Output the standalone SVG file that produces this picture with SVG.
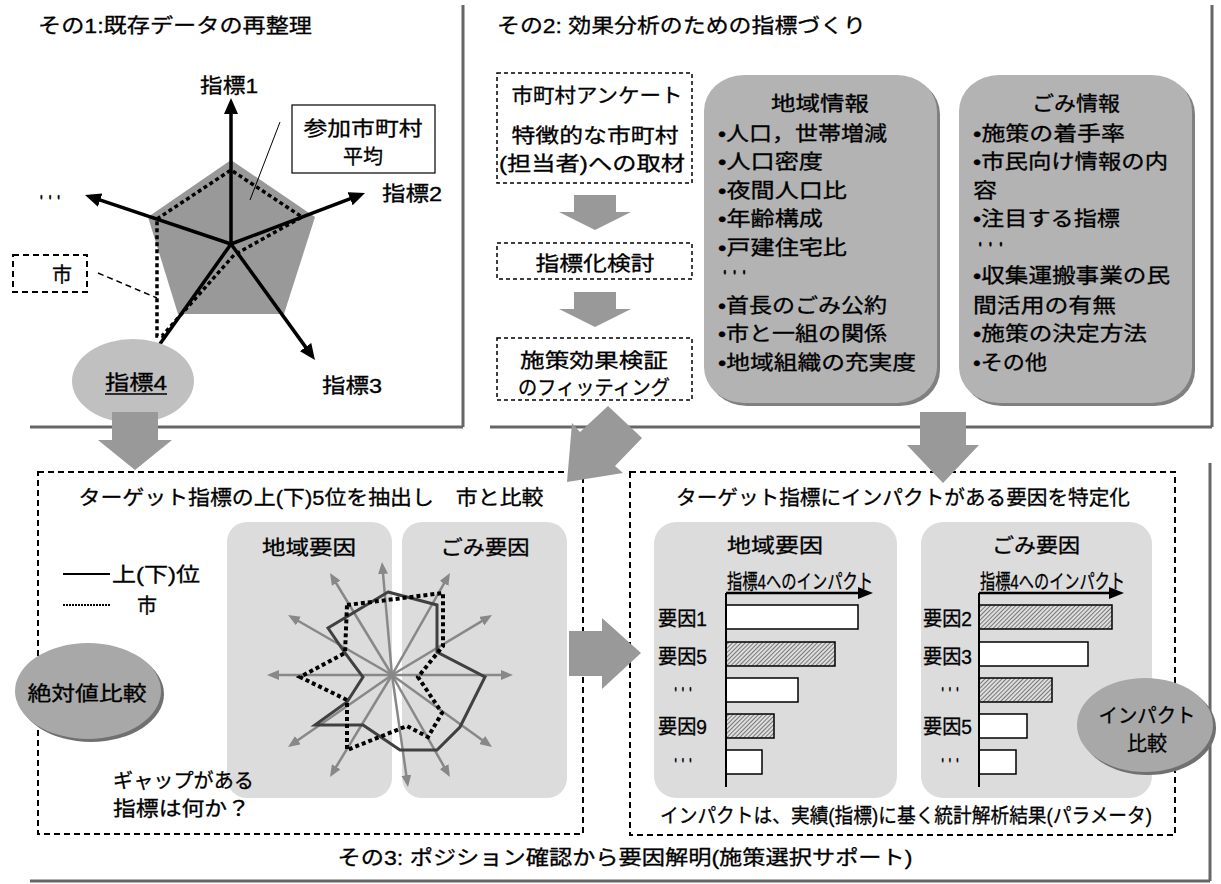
<svg xmlns="http://www.w3.org/2000/svg" width="1221" height="884" viewBox="0 0 1221 884">
<style>
.t{font-family:"Liberation Sans","Noto Sans CJK JP",sans-serif;fill:#000;font-size:20px;stroke:#000;stroke-width:0.3}
.m{text-anchor:middle}
.frame{stroke:#666;stroke-width:3;fill:none}
.garrow{fill:#999;stroke:none}
.dbox{fill:#fff;stroke:#000;stroke-width:1.5;stroke-dasharray:4 3}
.dbig{fill:none;stroke:#000;stroke-width:2;stroke-dasharray:6 4}
.gbox{fill:#b3b3b3}
.gshadow{fill:#808080}
.lbox{fill:#dcdcdc}
.ax1{stroke:#000;stroke-width:3.5;fill:none;marker-end:url(#ahB)}
.ax3{stroke:#888;stroke-width:2.5;fill:none;marker-end:url(#ahG)}
.bar{stroke:#000;stroke-width:1.5}
</style>
<defs>
<marker id="ahB" viewBox="0 0 16 14" markerWidth="16" markerHeight="14" refX="6" refY="7" orient="auto" markerUnits="userSpaceOnUse"><path d="M0,0 L16,7 L0,14 z" fill="#000"/></marker>
<marker id="ahG" viewBox="0 0 12 10" markerWidth="12" markerHeight="10" refX="5" refY="5" orient="auto" markerUnits="userSpaceOnUse"><path d="M0,0 L12,5 L0,10 z" fill="#888"/></marker>
<pattern id="hatch" width="3" height="3" patternUnits="userSpaceOnUse" patternTransform="rotate(45)"><rect width="3" height="3" fill="#dedede"/><line x1="0.5" y1="0" x2="0.5" y2="3" stroke="#777" stroke-width="1"/></pattern>
</defs>
<rect width="1221" height="884" fill="#fff"/>

<g id="frames">
<path class="frame" d="M463,5 V427 M30,427 H463"/>
<path class="frame" d="M1212,5 V427 M490,427 H1212"/>
<path class="frame" d="M1210,463 V881 M30,881 H1210"/>
</g>

<g id="panel1">
<text class="t" x="38" y="33" textLength="274" lengthAdjust="spacingAndGlyphs">その1:既存データの再整理</text>
<polygon points="231,160 315,217 284,314 178,314 148,217" fill="#999"/>
<polyline points="157,219 231,170 302,217 234,255 162,336 157,336 157,219" fill="none" stroke="#000" stroke-width="3.5" stroke-dasharray="4 3"/>
<line class="ax1" x1="231" y1="244" x2="231" y2="108"/>
<line class="ax1" x1="231" y1="244" x2="355.7" y2="196.6"/>
<line class="ax1" x1="231" y1="244" x2="309.1" y2="351.9"/>
<line class="ax1" x1="231" y1="244" x2="152.8" y2="353.9"/>
<line class="ax1" x1="231" y1="244" x2="94.5" y2="198.2"/>
<line x1="280" y1="122" x2="250" y2="200" stroke="#000" stroke-width="1"/>
<text class="t m" x="229" y="93" font-size="21" textLength="58" lengthAdjust="spacingAndGlyphs">指標1</text>
<text class="t" x="382" y="201" font-size="21" textLength="60" lengthAdjust="spacingAndGlyphs">指標2</text>
<text class="t" x="322" y="393" font-size="21" textLength="60" lengthAdjust="spacingAndGlyphs">指標3</text>
<text class="t" x="37" y="205" font-size="12" textLength="26" lengthAdjust="spacingAndGlyphs">・・・</text>
</g>

<g id="avgbox">
<rect x="292" y="105" width="143" height="68" fill="#fff" stroke="#000" stroke-width="1.2"/>
<text class="t m" x="363" y="136" font-size="24" textLength="119" lengthAdjust="spacingAndGlyphs">参加市町村</text>
<text class="t m" x="363" y="164" font-size="24">平均</text>
</g>

<g id="cityBox">
<rect x="13" y="255" width="74" height="37" fill="#fff" stroke="#000" stroke-width="2" stroke-dasharray="6 4"/>
<line x1="98" y1="273" x2="157" y2="298" stroke="#000" stroke-width="1.5" stroke-dasharray="6 4"/>
<text class="t m" x="62" y="282" font-size="21">市</text>
</g>

<g id="ind4">
<ellipse cx="133" cy="381" rx="61" ry="42" fill="#c0c0c0"/>
<text class="t" x="105" y="390" font-size="21" textLength="62" lengthAdjust="spacingAndGlyphs">指標4</text>
<line x1="105" y1="394" x2="167" y2="394" stroke="#000" stroke-width="1.5"/>
</g>

<g id="panel2">
<text class="t" x="497" y="33" textLength="369" lengthAdjust="spacingAndGlyphs">その2: 効果分析のための指標づくり</text>
</g>

<g id="survey">
<rect class="dbox" x="497" y="73" width="195" height="110"/>
<text class="t m" x="597" y="103" font-size="21" textLength="171" lengthAdjust="spacingAndGlyphs">市町村アンケート</text>
<text class="t m" x="595" y="143" font-size="21" textLength="167" lengthAdjust="spacingAndGlyphs">特徴的な市町村</text>
<text class="t m" x="592" y="171" font-size="21" textLength="186" lengthAdjust="spacingAndGlyphs">(担当者)への取材</text>
</g>
<g id="indexing">
<rect class="dbox" x="497" y="243" width="195" height="36"/>
<text class="t m" x="595" y="271" font-size="21" textLength="119" lengthAdjust="spacingAndGlyphs">指標化検討</text>
</g>
<g id="fitting">
<rect class="dbox" x="497" y="338" width="195" height="62"/>
<text class="t m" x="594" y="368" font-size="21" textLength="148" lengthAdjust="spacingAndGlyphs">施策効果検証</text>
<text class="t m" x="594" y="395" font-size="21" textLength="152" lengthAdjust="spacingAndGlyphs">のフィッティング</text>
</g>

<g id="regionInfo">
<rect class="gshadow" x="707" y="78" width="233" height="328" rx="40" ry="36"/>
<rect class="gbox" x="704" y="75" width="233" height="328" rx="40" ry="36"/>
<text class="t m" x="820" y="111" textLength="98" lengthAdjust="spacingAndGlyphs">地域情報</text>
<text class="t" x="718" y="141" textLength="169" lengthAdjust="spacingAndGlyphs">•人口，世帯増減</text>
<text class="t" x="718" y="169" textLength="105" lengthAdjust="spacingAndGlyphs">•人口密度</text>
<text class="t" x="718" y="198" textLength="129" lengthAdjust="spacingAndGlyphs">•夜間人口比</text>
<text class="t" x="718" y="226" textLength="105" lengthAdjust="spacingAndGlyphs">•年齢構成</text>
<text class="t" x="718" y="255" textLength="129" lengthAdjust="spacingAndGlyphs">•戸建住宅比</text>
<text class="t" x="720" y="280" font-size="12" textLength="29" lengthAdjust="spacingAndGlyphs">・・・</text>
<text class="t" x="718" y="313" textLength="169" lengthAdjust="spacingAndGlyphs">•首長のごみ公約</text>
<text class="t" x="718" y="341" textLength="169" lengthAdjust="spacingAndGlyphs">•市と一組の関係</text>
<text class="t" x="718" y="370" textLength="198" lengthAdjust="spacingAndGlyphs">•地域組織の充実度</text>
</g>

<g id="wasteInfo">
<rect class="gshadow" x="962" y="78" width="233" height="328" rx="40" ry="36"/>
<rect class="gbox" x="959" y="75" width="233" height="328" rx="40" ry="36"/>
<text class="t m" x="1076" y="111" textLength="88" lengthAdjust="spacingAndGlyphs">ごみ情報</text>
<text class="t" x="973" y="141" textLength="152" lengthAdjust="spacingAndGlyphs">•施策の着手率</text>
<text class="t" x="973" y="169" textLength="195" lengthAdjust="spacingAndGlyphs">•市民向け情報の内</text>
<text class="t" x="973" y="198" textLength="24" lengthAdjust="spacingAndGlyphs">容</text>
<text class="t" x="973" y="226" textLength="147" lengthAdjust="spacingAndGlyphs">•注目する指標</text>
<text class="t" x="975" y="252" font-size="12" textLength="31" lengthAdjust="spacingAndGlyphs">・・・</text>
<text class="t" x="973" y="283" textLength="197" lengthAdjust="spacingAndGlyphs">•収集運搬事業の民</text>
<text class="t" x="973" y="313" textLength="143" lengthAdjust="spacingAndGlyphs">間活用の有無</text>
<text class="t" x="973" y="341" textLength="174" lengthAdjust="spacingAndGlyphs">•施策の決定方法</text>
<text class="t" x="973" y="370" textLength="74" lengthAdjust="spacingAndGlyphs">•その他</text>
</g>

<g id="positionBox">
<rect class="dbig" x="38" y="472" width="545" height="362"/>
<text class="t m" x="311" y="505" textLength="465" lengthAdjust="spacingAndGlyphs">ターゲット指標の上(下)5位を抽出し　市と比較</text>
<rect class="lbox" x="227" y="522" width="165" height="276" rx="20"/>
<rect class="lbox" x="402" y="522" width="165" height="276" rx="20"/>
<text class="t m" x="309" y="555" textLength="94" lengthAdjust="spacingAndGlyphs">地域要因</text>
<text class="t m" x="485" y="555" textLength="89" lengthAdjust="spacingAndGlyphs">ごみ要因</text>
<line x1="63" y1="574" x2="110" y2="574" stroke="#000" stroke-width="2"/>
<text class="t" x="112" y="582" textLength="88" lengthAdjust="spacingAndGlyphs">上(下)位</text>
<line x1="63" y1="605" x2="110" y2="605" stroke="#000" stroke-width="2" stroke-dasharray="2 1"/>
<text class="t m" x="147" y="613">市</text>
<text class="t" x="113" y="788" textLength="141" lengthAdjust="spacingAndGlyphs">ギャップがある</text>
<text class="t" x="113" y="816" textLength="137" lengthAdjust="spacingAndGlyphs">指標は何か？</text>
</g>

<g id="radar3">
<line class="ax3" x1="392" y1="675" x2="382.6" y2="569"/>
<line class="ax3" x1="392" y1="675" x2="333.6" y2="579"/>
<line class="ax3" x1="392" y1="675" x2="294.1" y2="618.5"/>
<line class="ax3" x1="392" y1="675" x2="274" y2="675"/>
<line class="ax3" x1="392" y1="675" x2="293.8" y2="743"/>
<line class="ax3" x1="392" y1="675" x2="333.6" y2="771"/>
<line class="ax3" x1="392" y1="675" x2="407" y2="780.1"/>
<line class="ax3" x1="392" y1="675" x2="446.5" y2="770.9"/>
<line class="ax3" x1="392" y1="675" x2="486.3" y2="742.9"/>
<line class="ax3" x1="392" y1="675" x2="506" y2="675"/>
<line class="ax3" x1="392" y1="675" x2="486" y2="618.6"/>
<line class="ax3" x1="392" y1="675" x2="446.5" y2="579.1"/>
<polygon points="388,592 437,605 437,652 485,677 460,727 437,750 400,750 363,725 315,725 347,702 363,677 345,653 328,628" fill="none" stroke="#404040" stroke-width="3" stroke-linejoin="miter"/>
<polygon points="347,605 443,593 443,646 418,677 442,713 428,737 407,726 347,750 347,700 300,677 345,653" fill="none" stroke="#000" stroke-width="4" stroke-dasharray="4 3"/>
</g>

<g id="absCompare">
<ellipse cx="91" cy="694" rx="73" ry="48" fill="#707070"/>
<ellipse cx="88" cy="691" rx="73" ry="48" fill="#a8a8a8"/>
<text class="t m" x="87" y="701" textLength="119" lengthAdjust="spacingAndGlyphs">絶対値比較</text>
</g>

<g id="impactBox">
<rect class="dbig" x="630" y="472" width="545" height="363"/>
<text class="t m" x="903" y="505" textLength="454" lengthAdjust="spacingAndGlyphs">ターゲット指標にインパクトがある要因を特定化</text>
<rect class="lbox" x="654" y="522" width="243" height="276" rx="22"/>
<rect class="lbox" x="921" y="522" width="231" height="276" rx="22"/>
<text class="t m" x="775" y="553" textLength="96" lengthAdjust="spacingAndGlyphs">地域要因</text>
<text class="t m" x="1036" y="553" textLength="88" lengthAdjust="spacingAndGlyphs">ごみ要因</text>
<text class="t" x="727" y="589" font-size="15" textLength="146" lengthAdjust="spacingAndGlyphs">指標4へのインパクト</text>
<text class="t" x="980" y="589" font-size="15" textLength="145" lengthAdjust="spacingAndGlyphs">指標4へのインパクト</text>
<text class="t" x="906" y="823" font-size="18" text-anchor="middle" textLength="492" lengthAdjust="spacingAndGlyphs">インパクトは、実績(指標)に基く統計解析結果(パラメータ)</text>
</g>

<g id="chartRegion">
<rect class="bar" x="726" y="605" width="132" height="24" fill="#fff"/>
<rect class="bar" x="726" y="642" width="109" height="24" fill="url(#hatch)"/>
<rect class="bar" x="726" y="678" width="72" height="24" fill="#fff"/>
<rect class="bar" x="726" y="714" width="48" height="24" fill="url(#hatch)"/>
<rect class="bar" x="726" y="750" width="36" height="24" fill="#fff"/>
<line x1="726" y1="593" x2="726" y2="787" stroke="#000" stroke-width="2"/>
<line x1="726" y1="593" x2="860" y2="593" stroke="#000" stroke-width="2.5"/>
<polygon points="858,587 873,593 858,599" fill="#000"/>
<text class="t" x="658" y="626" font-size="17" textLength="49" lengthAdjust="spacingAndGlyphs">要因1</text>
<text class="t" x="658" y="664" font-size="17" textLength="49" lengthAdjust="spacingAndGlyphs">要因5</text>
<text class="t m" x="683" y="697" font-size="11" textLength="22" lengthAdjust="spacingAndGlyphs">・・・</text>
<text class="t" x="658" y="734" font-size="17" textLength="49" lengthAdjust="spacingAndGlyphs">要因9</text>
<text class="t m" x="683" y="768" font-size="11" textLength="22" lengthAdjust="spacingAndGlyphs">・・・</text>
</g>

<g id="chartWaste">
<rect class="bar" x="979" y="605" width="133" height="24" fill="url(#hatch)"/>
<rect class="bar" x="979" y="642" width="109" height="24" fill="#fff"/>
<rect class="bar" x="979" y="678" width="73" height="24" fill="url(#hatch)"/>
<rect class="bar" x="979" y="714" width="48" height="24" fill="#fff"/>
<rect class="bar" x="979" y="750" width="37" height="24" fill="#fff"/>
<line x1="979" y1="593" x2="979" y2="787" stroke="#000" stroke-width="2"/>
<line x1="979" y1="593" x2="1111" y2="593" stroke="#000" stroke-width="2.5"/>
<polygon points="1109,587 1124,593 1109,599" fill="#000"/>
<text class="t" x="923" y="626" font-size="17" textLength="49" lengthAdjust="spacingAndGlyphs">要因2</text>
<text class="t" x="923" y="664" font-size="17" textLength="49" lengthAdjust="spacingAndGlyphs">要因3</text>
<text class="t m" x="950" y="697" font-size="11" textLength="22" lengthAdjust="spacingAndGlyphs">・・・</text>
<text class="t" x="923" y="734" font-size="17" textLength="49" lengthAdjust="spacingAndGlyphs">要因5</text>
<text class="t m" x="950" y="768" font-size="11" textLength="22" lengthAdjust="spacingAndGlyphs">・・・</text>
</g>

<g id="impactCompare">
<ellipse cx="1148" cy="728" rx="68" ry="47" fill="#707070"/>
<ellipse cx="1145" cy="725" rx="68" ry="47" fill="#a8a8a8"/>
<text class="t m" x="1147" y="723" font-size="21" textLength="97" lengthAdjust="spacingAndGlyphs">インパクト</text>
<text class="t m" x="1147" y="751" font-size="21">比較</text>
</g>

<g id="panel3title">
<text class="t m" x="625" y="865" font-size="21" textLength="575" lengthAdjust="spacingAndGlyphs">その3: ポジション確認から要因解明(施策選択サポート)</text>
</g>

<g id="connectors">
<polygon class="garrow" points="112,412 158,412 158,440 172,440 135,470 98,440 112,440"/>
<polygon class="garrow" points="574,195 616,195 616,212 631,212 595,230 559,212 574,212"/>
<polygon class="garrow" points="574,292 616,292 616,309 631,309 595,327 559,309 574,309"/>
<polygon class="garrow" points="608,406 642,438 615,466 623,473 567,482 572,423 580,432"/>
<polygon class="garrow" points="920,412 966,412 966,445 979,445 943,483 907,445 920,445"/>
<polygon class="garrow" points="569,631 602,631 602,618 641,653 602,689 602,676 569,676"/>
</g>
</svg>
